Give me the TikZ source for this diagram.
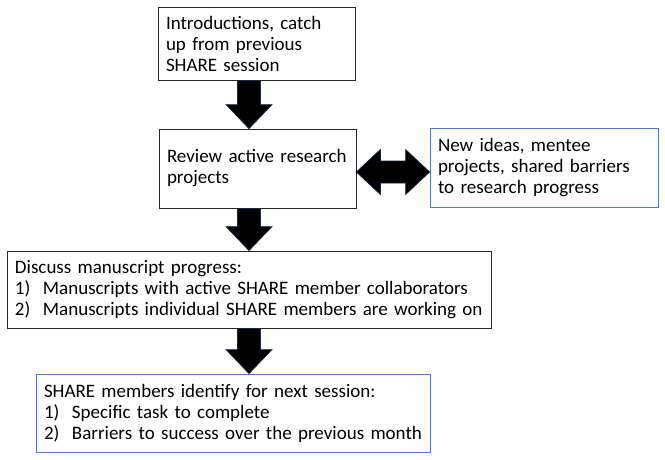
\documentclass[tikz,border=0pt]{standalone}
\usepackage{fontspec}
\setmainfont{Carlito}
\usetikzlibrary{calc}
\definecolor{boxblue}{RGB}{84,124,200}
\definecolor{arrowedge}{RGB}{25,35,70}
\tikzset{
  box/.style={draw=black!85, line width=0.8pt, inner xsep=8pt, inner ysep=3pt, align=left,
    font=\fontsize{19}{21}\selectfont, anchor=center},
  bluebox/.style={box, draw=boxblue},
  bigarrow/.style={fill=black, draw=arrowedge, line width=0.7pt, line join=miter},
}
\newcommand{\li}[1]{\makebox[28pt][l]{#1}}
\begin{document}
\begin{tikzpicture}[x=1pt,y=-1pt]
\useasboundingbox (0,0) rectangle (665,459);
\node[box, minimum width=197pt, minimum height=73pt, text width=181pt] (b1) at (256.5,43.5)
  {Introductions, catch\\ up from previous\\ SHARE session};
\node[box, minimum width=197pt, minimum height=79pt, text width=181pt] (b2) at (257.5,168.5)
  {Review active research\\ projects\\[3pt]};
\node[bluebox, minimum width=228pt, minimum height=79pt, text width=212pt] (b3) at (544,167.5)
  {New ideas, mentee\\ projects, shared barriers\\ to research progress};
\node[box, minimum width=484pt, minimum height=77pt, text width=468pt] (b4) at (249,289.5)
  {Discuss manuscript progress:\\
   \li{1)}Manuscripts with active SHARE member collaborators\\
   \li{2)}Manuscripts individual SHARE members are working on};
\node[bluebox, minimum width=394pt, minimum height=78pt, text width=378pt] (b5) at (233,413)
  {SHARE members identify for next session:\\
   \li{1)}Specific task to complete\\
   \li{2)}Barriers to success over the previous month};
% down arrows
\foreach \s/\e in {b1/b2, b2/b4, b4/b5}{
  \draw[bigarrow] let \p1=(\s.south), \p2=(\e.north) in
    (249pt-11.5pt,\y1) -- (249pt+11.5pt,\y1) -- (249pt+11.5pt,\y2+24pt) -- (249pt+23pt,\y2+24pt)
    -- (249pt,\y2) -- (249pt-23pt,\y2+24pt) -- (249pt-11.5pt,\y2+24pt) -- cycle;
}
% double arrow
\draw[bigarrow] let \p1=(b2.east), \p2=(b3.west) in
  (\x1,-172pt) -- (\x1+24pt,-149.5pt) -- (\x1+24pt,-161pt) -- (\x2-24pt,-161pt) -- (\x2-24pt,-149.5pt)
  -- (\x2,-172pt) -- (\x2-24pt,-194.5pt) -- (\x2-24pt,-183pt) -- (\x1+24pt,-183pt) -- (\x1+24pt,-194.5pt) -- cycle;
\end{tikzpicture}
\end{document}
